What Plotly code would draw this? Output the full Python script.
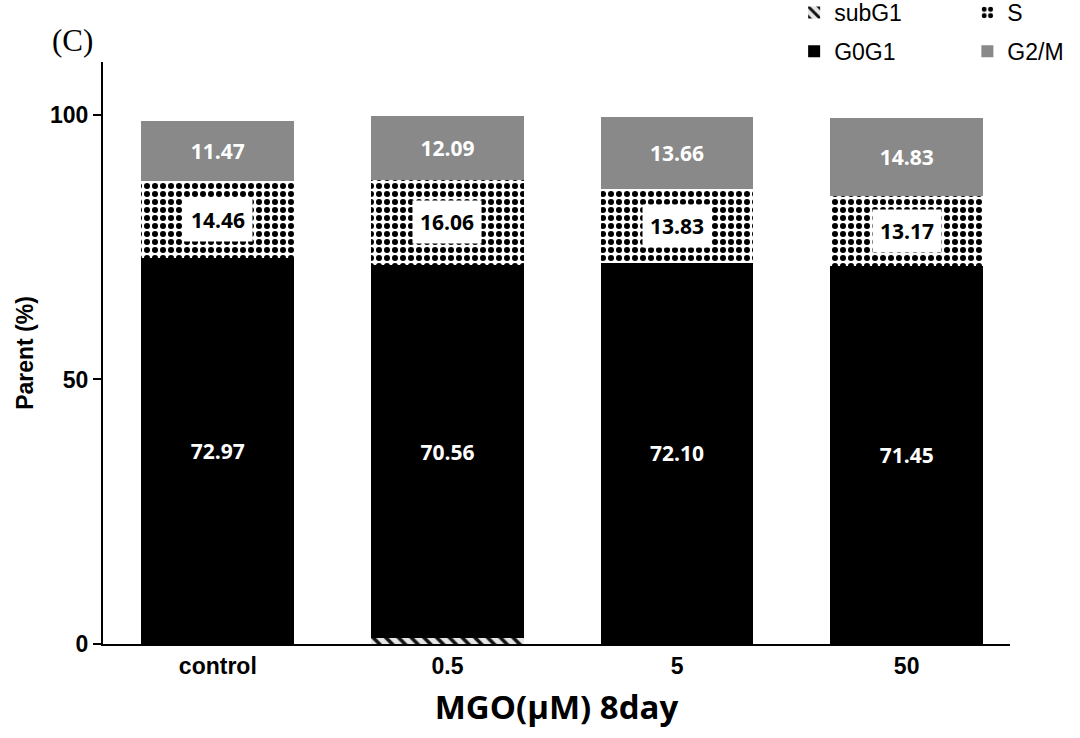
import plotly.graph_objects as go

categories = ["control", "0.5", "5", "50"]
subG1 = [0.0, 1.1, 0.0, 0.0]
g0g1 = [72.97, 70.56, 72.10, 71.45]
s_phase = [14.46, 16.06, 13.83, 13.17]
g2m = [11.47, 12.09, 13.66, 14.83]

y_ticks = [0, 50, 100]

lab_font = dict(family="Open Sans", size=21, color="white")

fig = go.Figure()
fig.add_bar(
    x=categories, y=subG1, name="subG1", legend="legend", legendgroup="a",
    marker=dict(color="#e6e6e6", line=dict(width=0),
                pattern=dict(shape="\\", fgcolor="#111111", bgcolor="#e6e6e6",
                             fgopacity=1, size=9, solidity=0.4, fillmode="overlay")),
)
fig.add_bar(
    x=categories, y=g0g1, name="G0G1", legend="legend", legendgroup="b",
    marker=dict(color="black", line=dict(width=0)),
    text=[f"<b>{v:.2f}</b>" for v in g0g1], textposition="inside",
    insidetextanchor="middle", textfont=lab_font, textangle=0,
)
fig.add_bar(
    x=categories, y=s_phase, name="S", legend="legend2", legendgroup="c",
    marker=dict(color="white", line=dict(width=0),
                pattern=dict(shape=".", fgcolor="black", bgcolor="white",
                             fgopacity=1, size=8, solidity=0.45, fillmode="overlay")),
)
fig.add_bar(
    x=categories, y=g2m, name="G2/M", legend="legend2", legendgroup="d",
    marker=dict(color="#898989", line=dict(width=0)),
    text=[f"<b>{v:.2f}</b>" for v in g2m], textposition="inside",
    insidetextanchor="middle", textfont=lab_font, textangle=0,
)

# S labels with white box
for i, (a, b, sv) in enumerate(zip(subG1, g0g1, s_phase)):
    fig.add_annotation(
        x=i, y=a + b + sv / 2, text=f"<b>{sv:.2f}</b>", showarrow=False,
        font=dict(family="Open Sans", size=21, color="black"),
        bgcolor="white", borderpad=7,
    )

fig.add_annotation(
    xref="paper", yref="paper", x=-0.034, y=1.037, xanchor="center", yanchor="middle",
    text="(C)", showarrow=False,
    font=dict(family="Liberation Serif", size=31, color="black"),
)

fig.update_layout(
    barmode="stack",
    bargap=0.335,
    width=1080, height=738,
    margin=dict(l=103, r=70, t=62, b=94, autoexpand=False),
    plot_bgcolor="white", paper_bgcolor="white",
    font=dict(family="Liberation Sans", color="black"),
    legend=dict(x=0.762, y=1.122, xanchor="left", yanchor="top",
                font=dict(family="Liberation Sans", size=23), tracegroupgap=6,
                bgcolor="rgba(0,0,0,0)"),
    legend2=dict(x=0.953, y=1.122, xanchor="left", yanchor="top",
                 font=dict(family="Liberation Sans", size=23), tracegroupgap=6,
                 bgcolor="rgba(0,0,0,0)"),
    xaxis=dict(
        showline=True, linecolor="black", linewidth=2, ticks="",
        range=[-0.5, 3.45],
        tickfont=dict(family="Liberation Sans", size=23, weight="bold"),
        title=dict(text="<b>MGO(μM) 8day</b>", font=dict(family="Open Sans", size=33), standoff=18),
    ),
    yaxis=dict(
        showline=True, linecolor="black", linewidth=2, ticks="outside",
        ticklen=8, tickwidth=2, tickcolor="black", showgrid=False, zeroline=False,
        range=[0, 110], tickvals=y_ticks,
        tickfont=dict(family="Liberation Sans", size=23, weight="bold"),
        title=dict(text="<b>Parent (%)</b>", font=dict(family="Liberation Sans", size=23), standoff=10),
    ),
)

fig.write_html("out.html", config={"displayModeBar": False},
               post_script="document.body.style.margin='0';")
